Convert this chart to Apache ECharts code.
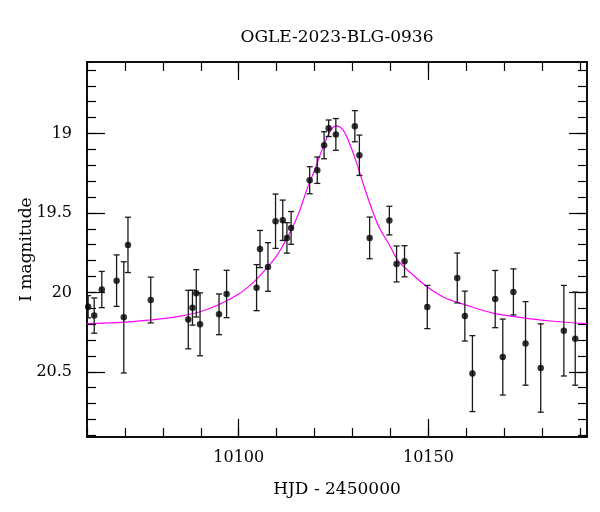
<!DOCTYPE html>
<html>
<head>
<meta charset="utf-8">
<script src="https://cdn.jsdelivr.net/npm/echarts@6/dist/echarts.min.js"></script>
<style>
html,body{margin:0;padding:0;background:#fff;}
#chart{width:600px;height:512px;}
</style>
</head>
<body>
<div id="chart"></div>
<script>
// Observed photometry (HJD - 2450000, I magnitude, error)
const hjd = [10060.3, 10061.9, 10063.9, 10067.8, 10069.7, 10070.8, 10076.8, 10086.7, 10087.8, 10088.8,
  10089.8, 10094.8, 10096.8, 10104.7, 10105.6, 10107.7, 10109.7, 10111.6, 10112.7, 10113.8,
  10118.7, 10120.7, 10122.5, 10123.7, 10125.6, 10130.6, 10131.8, 10134.5, 10139.7, 10141.6,
  10143.7, 10149.7, 10157.6, 10159.6, 10161.6, 10167.6, 10169.6, 10172.4, 10175.6, 10179.6,
  10185.7, 10188.7];
const mag = [20.09, 20.146, 19.982, 19.926, 20.157, 19.701, 20.048, 20.171, 20.096, 20.006,
  20.201, 20.138, 20.010, 19.970, 19.727, 19.840, 19.552, 19.546, 19.657, 19.594,
  19.294, 19.231, 19.074, 18.967, 19.006, 18.954, 19.137, 19.657, 19.548, 19.821,
  19.804, 20.092, 19.909, 20.149, 20.511, 20.042, 20.407, 19.997, 20.321, 20.476,
  20.241, 20.291];
const magErr = [0.07, 0.111, 0.114, 0.162, 0.35, 0.174, 0.144, 0.184, 0.11, 0.149,
  0.198, 0.128, 0.149, 0.145, 0.117, 0.153, 0.171, 0.127, 0.096, 0.103,
  0.085, 0.083, 0.085, 0.052, 0.1, 0.098, 0.127, 0.131, 0.09, 0.113,
  0.098, 0.136, 0.157, 0.157, 0.239, 0.18, 0.239, 0.145, 0.263, 0.278,
  0.285, 0.293];

// Model light curve
const modelHjd = [10060, 10070, 10080, 10085, 10090, 10095, 10100, 10103, 10105, 10108,
  10110, 10112, 10114, 10116, 10118, 10120, 10122, 10124, 10125.7, 10127.4,
  10129, 10131, 10133, 10135, 10137, 10139.7, 10142, 10145, 10149.4, 10154,
  10160, 10167, 10175, 10182, 10191.8];
const modelMag = [20.197, 20.187, 20.165, 20.148, 20.12, 20.075, 20.01, 19.955, 19.91, 19.83,
  19.77, 19.69, 19.60, 19.49, 19.35, 19.23, 19.10, 18.99, 18.952, 18.975,
  19.05, 19.18, 19.33, 19.47, 19.59, 19.70, 19.80, 19.87, 19.96, 20.03,
  20.08, 20.13, 20.16, 20.18, 20.197];

// Axis ticks and labels
const xMajorTicks = [10100, 10150];
const xMinorTicks = [10060, 10070, 10080, 10090, 10100, 10110, 10120, 10130, 10140, 10150, 10160, 10170, 10180, 10190];
const yMajorTicks = [19, 19.5, 20, 20.5];
const yMinorTicks = [18.6, 18.7, 18.8, 18.9, 19.0, 19.1, 19.2, 19.3, 19.4, 19.5, 19.6, 19.7, 19.8, 19.9,
  20.0, 20.1, 20.2, 20.3, 20.4, 20.5, 20.6, 20.7, 20.8, 20.9];
const titleText = 'OGLE-2023-BLG-0936';
const xName = 'HJD - 2450000';
const yName = 'I magnitude';

const X_MIN = 10060, X_MAX = 10191.8, Y_MIN = 18.55, Y_MAX = 20.91;
const FONT = 'DejaVu Serif';

const points = hjd.map((t, i) => [t, mag[i], magErr[i]]);
const model = modelHjd.map((t, i) => [t, modelMag[i]]);

function xAx(pos, ticks, len, labels, extra) {
  return Object.assign({
    type: 'value', position: pos, min: X_MIN, max: X_MAX,
    axisLine: {show: true, onZero: false, lineStyle: {color: '#000', width: 1.5}},
    axisTick: {show: true, inside: true, length: len, customValues: ticks, lineStyle: {color: '#000', width: 1.2}},
    axisLabel: labels ? {show: true, customValues: xMajorTicks, formatter: v => String(v), color: '#000',
      fontFamily: FONT, fontSize: 16, margin: 13} : {show: false},
    splitLine: {show: false}
  }, extra || {});
}
function yAx(pos, ticks, len, labels, extra) {
  return Object.assign({
    type: 'value', position: pos, min: Y_MIN, max: Y_MAX, inverse: true,
    axisLine: {show: true, onZero: false, lineStyle: {color: '#000', width: 1.5}},
    axisTick: {show: true, inside: true, length: len, customValues: ticks, lineStyle: {color: '#000', width: 1.2}},
    axisLabel: labels ? {show: true, customValues: yMajorTicks, formatter: v => String(v), color: '#000',
      fontFamily: FONT, fontSize: 16, margin: 15} : {show: false},
    splitLine: {show: false}
  }, extra || {});
}

const chart = echarts.init(document.getElementById('chart'), null, {renderer: 'canvas'});
chart.setOption({
  backgroundColor: '#fff',
  animation: false,
  title: {
    text: titleText, left: 332, top: 24, textAlign: 'center',
    textStyle: {fontFamily: FONT, fontSize: 17, fontWeight: 'normal', color: '#000'}
  },
  grid: {left: 87, right: 13, top: 62, bottom: 75, containLabel: false, outerBoundsMode: 'none'},
  xAxis: [
    xAx('bottom', xMinorTicks, 9, true, {
      name: xName, nameLocation: 'middle', nameGap: 44, nameMoveOverlap: false,
      nameTextStyle: {fontFamily: FONT, fontSize: 17, color: '#000'}
    }),
    xAx('bottom', xMajorTicks, 18, false),
    xAx('top', xMinorTicks, 9, false),
    xAx('top', xMajorTicks, 18, false)
  ],
  yAxis: [
    yAx('left', yMinorTicks, 9, true, {
      name: yName, nameLocation: 'middle', nameGap: 52, nameMoveOverlap: false,
      nameTextStyle: {fontFamily: FONT, fontSize: 17, color: '#000'}
    }),
    yAx('left', yMajorTicks, 18, false),
    yAx('right', yMinorTicks, 9, false),
    yAx('right', yMajorTicks, 18, false)
  ],
  series: [
    {
      type: 'line', name: 'model', data: model, xAxisIndex: 0, yAxisIndex: 0,
      showSymbol: false, smooth: 0.35, clip: true,
      lineStyle: {color: '#ff00ff', width: 1.2}, z: 2
    },
    {
      type: 'custom', name: 'errors', data: points, xAxisIndex: 0, yAxisIndex: 0, clip: true,
      renderItem: function (params, api) {
        const x = api.value(0), y = api.value(1), e = api.value(2);
        const p1 = api.coord([x, y - e]);
        const p2 = api.coord([x, y + e]);
        const w = 3;
        const style = {stroke: '#1a1a1a', lineWidth: 1.3};
        return {
          type: 'group',
          children: [
            {type: 'line', shape: {x1: p1[0], y1: p1[1], x2: p2[0], y2: p2[1]}, style: style},
            {type: 'line', shape: {x1: p1[0] - w, y1: p1[1], x2: p1[0] + w, y2: p1[1]}, style: style},
            {type: 'line', shape: {x1: p2[0] - w, y1: p2[1], x2: p2[0] + w, y2: p2[1]}, style: style}
          ]
        };
      },
      z: 3
    },
    {
      type: 'scatter', name: 'data', data: points.map(p => [p[0], p[1]]), xAxisIndex: 0, yAxisIndex: 0,
      symbol: 'circle', symbolSize: 6.5, itemStyle: {color: '#000'}, clip: true, z: 4
    }
  ]
});
</script>
</body>
</html>
